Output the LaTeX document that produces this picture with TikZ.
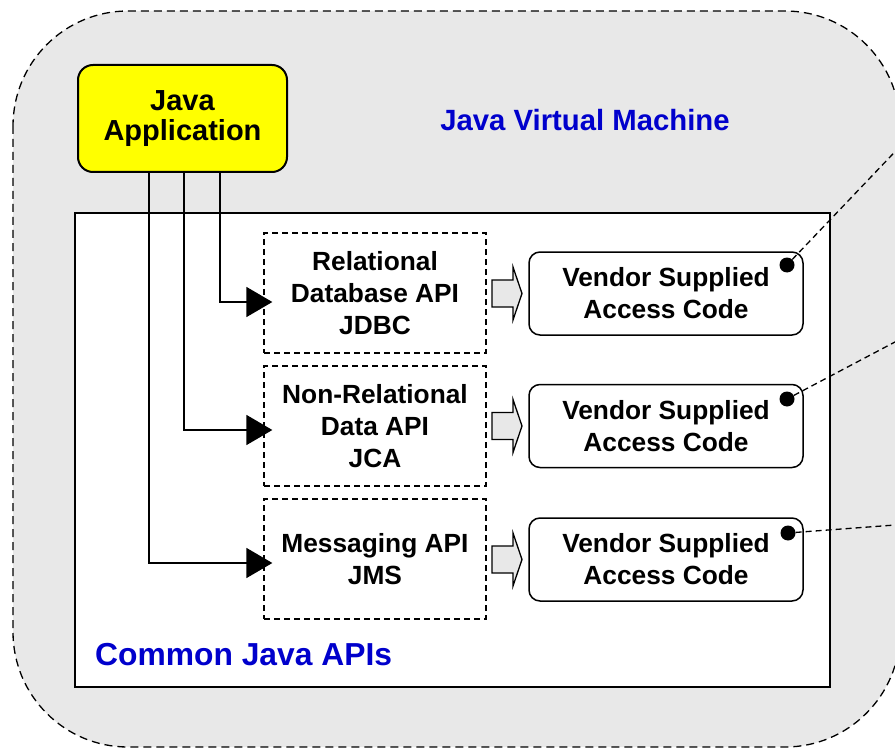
\documentclass[tikz,border=0pt]{standalone}
\usepackage{fontspec}
\setmainfont{Liberation Sans}
\usetikzlibrary{arrows.meta}
\definecolor{jvmgray}{HTML}{E8E8E8}
\definecolor{lblblue}{HTML}{0000CC}
\definecolor{appyellow}{HTML}{FFFF00}
\begin{document}
\begin{tikzpicture}[x=1pt,y=-1pt,
  boxtext/.style={font=\fontsize{26.3}{32}\selectfont\bfseries, align=center, inner sep=0pt},
  apibox/.style={boxtext, draw, line width=1.3pt, dash pattern=on 6pt off 4pt, minimum width=222pt, minimum height=120pt},
  vendorbox/.style={boxtext, draw, fill=white, line width=1.5pt, rounded corners=11pt, minimum width=274pt, minimum height=83pt},
  vdot/.style={circle, fill=black, minimum size=15pt, inner sep=0pt},
  conn/.style={line width=1.5pt, -{Triangle[length=26pt,width=30pt]}},
  link/.style={line width=1.3pt, dash pattern=on 6pt off 4pt},
  blockarrow/.style={fill=jvmgray, draw=black, line width=1.3pt, line join=miter},
  bluelbl/.style={text=lblblue, inner sep=0pt}
]
\useasboundingbox (0,0) rectangle (895,749);
\clip (0,0) rectangle (895,749);

% Java Virtual Machine region
\draw[fill=jvmgray, line width=1.3pt, dash pattern=on 8pt off 5pt, rounded corners=115pt]
  (13,11) rectangle (900,747);
\node[bluelbl, font=\fontsize{29.3}{34}\selectfont\bfseries] (jvm) at (585,120) {Java Virtual Machine};

% Common Java APIs region
\draw[fill=white, line width=2pt] (75,213) rectangle (830,687);
\node[bluelbl, anchor=west, font=\fontsize{31.8}{36}\selectfont\bfseries] (cja) at (95,655) {Common Java APIs};

% Java Application
\node[draw, fill=appyellow, line width=2pt, rounded corners=15pt, minimum width=209pt, minimum height=107pt,
  font=\fontsize{29}{30}\selectfont\bfseries, align=center, inner sep=0pt] (app) at (182.5,118.5) {Java\\Application};

% API boxes
\node[apibox] (jdbc) at (375,293) {Relational\\Database API\\JDBC};
\node[apibox] (jca) at (375,426) {Non-Relational\\Data API\\JCA};
\node[apibox] (jms) at (375,559) {Messaging API\\JMS};

% arrow tips
\coordinate (t1) at ([xshift=9pt,yshift=-9pt]jdbc.west);
\coordinate (t2) at ([xshift=9pt,yshift=-4pt]jca.west);
\coordinate (t3) at ([xshift=9pt,yshift=-4pt]jms.west);

\draw[conn] ([xshift=37.5pt]app.south) |- (t1);
\draw[conn] ([xshift=1.5pt]app.south) |- (t2);
\draw[conn] ([xshift=-33.5pt]app.south) |- (t3);

% Vendor boxes
\node[vendorbox] (v1) at (666,293.5) {Vendor Supplied\\Access Code};
\node[vendorbox] (v2) at (666,426) {Vendor Supplied\\Access Code};
\node[vendorbox] (v3) at (666,559.5) {Vendor Supplied\\Access Code};

% block arrows
\foreach \cy in {293.5,426,559.5} {
  \draw[blockarrow] (492,\cy-13.5) -- (513,\cy-13.5) -- (513,\cy-26.5) -- (522,\cy)
    -- (513,\cy+26.5) -- (513,\cy+13.5) -- (492,\cy+13.5) -- cycle;
}

% dots
\node[vdot] (d1) at (787,265) {};
\node[vdot] (d2) at (787,399) {};
\node[vdot] (d3) at (788,533) {};

\coordinate (e1) at (930,115);
\coordinate (e2) at (930,323.5);
\coordinate (e3) at (930,522.4);

\draw[link] (d1) -- (e1);
\draw[link] (d2) -- (e2);
\draw[link] (d3) -- (e3);
\end{tikzpicture}
\end{document}
